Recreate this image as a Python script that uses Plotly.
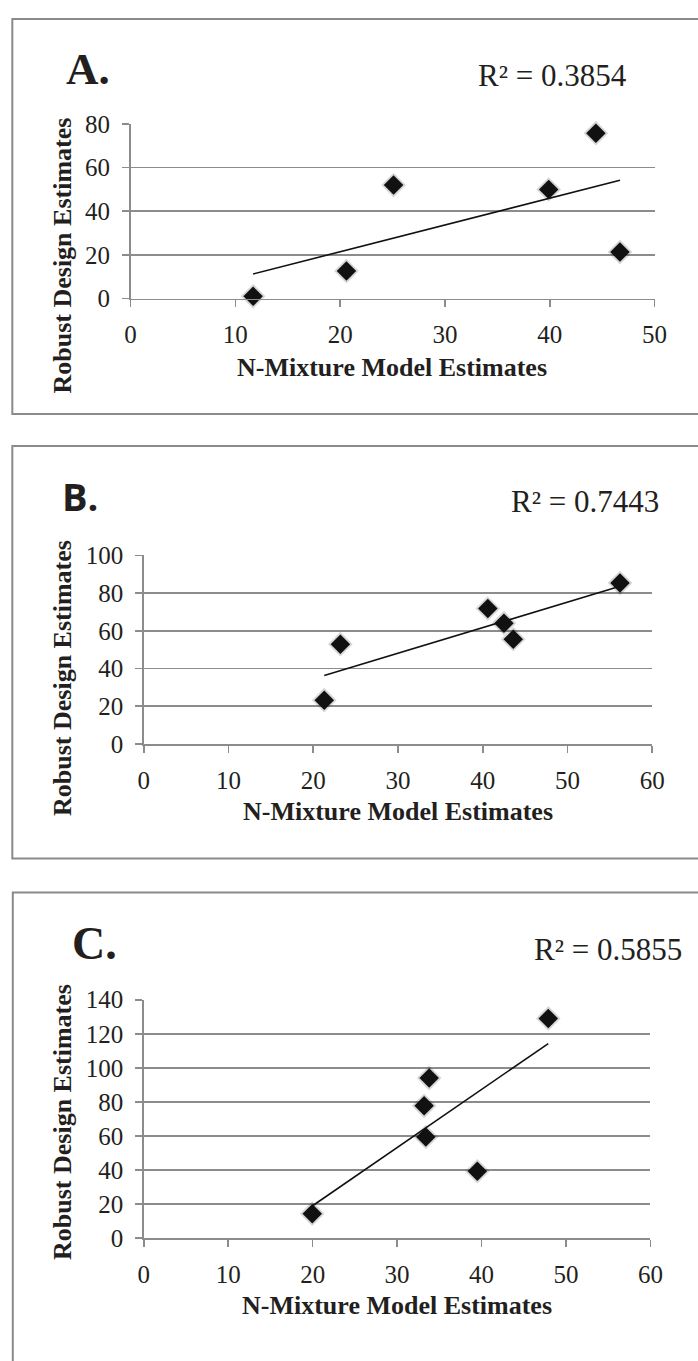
import numpy as np
import plotly.graph_objects as go

W, H = 698, 1361

# ---------------- data ----------------
a_x = [11.7, 20.6, 25.1, 39.9, 44.4, 46.7]
a_y = [1.0, 12.6, 52.0, 50.0, 75.8, 21.3]
b_x = [21.3, 23.2, 40.6, 42.5, 43.6, 56.2]
b_y = [23.2, 52.9, 71.8, 64.0, 55.5, 85.3]
c_x = [19.95, 33.2, 33.8, 33.4, 39.5, 47.9]
c_y = [14.4, 77.7, 94.0, 59.4, 39.3, 129.0]

panel_labels = ["A.", "B.", "C."]
r2_labels = ["R² = 0.3854", "R² = 0.7443", "R² = 0.5855"]
x_title = "N-Mixture Model Estimates"
y_title = "Robust Design Estimates"
x_ranges = [[0, 50], [0, 60], [0, 60]]
y_ranges = [[0, 80], [0, 100], [0, 140]]
x_dticks = [10, 10, 10]
y_dticks = [20, 20, 20]

# ---------------- layout geometry (pixels) ----------------
def px(x):
    return x / W

def py(y):
    return 1 - y / H

plot_boxes = [  # left, right, top, bottom in px
    (128.0, 666.7, 113.3, 291.3),
    (141.6, 664.3, 553.3, 745.7),
    (141.6, 662.5, 1006.7, 1250.0),
]
frames = [  # left, top, bottom
    (6.5, 6.0, 409.0),
    (6.5, 441.7, 862.7),
    (7.0, 897.3, 1400.0),
]

SERIF = "Liberation Serif, Times New Roman, serif"
TXT = "#231f20"
GRID = "#8c8c8c"

fig = go.Figure()
datasets = [(a_x, a_y), (b_x, b_y), (c_x, c_y)]

for i, (xs, ys) in enumerate(datasets):
    sfx = "" if i == 0 else str(i + 1)
    xa, ya = "x" + sfx, "y" + sfx
    # soft shadow under markers
    fig.add_trace(go.Scatter(x=xs, y=ys, mode="markers", xaxis=xa, yaxis=ya,
                             marker=dict(symbol="diamond", size=19, color="rgba(0,0,0,0.16)",
                                         line=dict(width=0)),
                             cliponaxis=False, hoverinfo="skip", showlegend=False))
    fig.add_trace(go.Scatter(x=xs, y=ys, mode="markers", xaxis=xa, yaxis=ya,
                             marker=dict(symbol="diamond", size=15, color="#111111",
                                         line=dict(width=0)),
                             cliponaxis=False, showlegend=False))
    # linear trendline (least squares) from min x to max x
    k, b = np.polyfit(xs, ys, 1)
    xl = [min(xs), max(xs)]
    yl = [k * v + b for v in xl]
    fig.add_trace(go.Scatter(x=xl, y=yl, mode="lines", xaxis=xa, yaxis=ya,
                             line=dict(color="#111111", width=1.6),
                             cliponaxis=False, showlegend=False, hoverinfo="skip"))

    l, r, t, bt = plot_boxes[i]
    axis_common = dict(showgrid=True, gridcolor=GRID, gridwidth=1.6,
                       showline=True, linecolor=GRID, linewidth=1.6,
                       ticks="outside", tickcolor=GRID, tickwidth=1.6, ticklen=7,
                       zeroline=False,
                       tickfont=dict(family=SERIF, size=25, color=TXT))
    fig.layout["xaxis" + sfx] = dict(axis_common, domain=[px(l), px(r)], anchor=ya,
                                     range=x_ranges[i], dtick=x_dticks[i], tick0=0,
                                     showgrid=False, ticklabelstandoff=6)
    fig.layout["yaxis" + sfx] = dict(axis_common, domain=[py(bt), py(t)], anchor=xa,
                                     range=y_ranges[i], dtick=y_dticks[i], tick0=0,
                                     ticklabelstandoff=7)

    fl, ft, fb = frames[i]
    fig.add_shape(type="rect", xref="paper", yref="paper",
                  x0=px(fl), x1=px(720), y0=py(fb), y1=py(ft),
                  line=dict(color="#8a8a8a", width=2), fillcolor="rgba(0,0,0,0)",
                  layer="below")

# panel letters
letter_specs = [
    (60, 57, SERIF, 45),
    (56, 493, "Open Sans, Lato, sans-serif", 38),
    (66, 949, SERIF, 46),
]
for (x0, yc, fam, sz), lab in zip(letter_specs, panel_labels):
    fig.add_annotation(x=px(x0), y=py(yc), xref="paper", yref="paper",
                       xanchor="left", yanchor="middle", showarrow=False,
                       text="<b>" + lab + "</b>",
                       font=dict(family=fam, size=sz, color=TXT))

# R² labels
r2_specs = [(561.5, 64), (595.5, 498), (619, 955)]
for (xc, yc), lab in zip(r2_specs, r2_labels):
    fig.add_annotation(x=px(xc), y=py(yc), xref="paper", yref="paper",
                       xanchor="center", yanchor="middle", showarrow=False,
                       text=lab, font=dict(family=SERIF, size=31, color=TXT))

# axis titles
xt_specs = [(397, 362), (402.5, 815), (402, 1319)]
for xc, yc in xt_specs:
    fig.add_annotation(x=px(xc), y=py(yc), xref="paper", yref="paper",
                       xanchor="center", yanchor="middle", showarrow=False,
                       text="<b>" + x_title + "</b>",
                       font=dict(family=SERIF, size=26, color=TXT))
yt_specs = [(58, 247), (58, 678), (58, 1131)]
for xc, yc in yt_specs:
    fig.add_annotation(x=px(xc), y=py(yc), xref="paper", yref="paper",
                       xanchor="center", yanchor="middle", showarrow=False,
                       textangle=-90,
                       text="<b>" + y_title + "</b>",
                       font=dict(family=SERIF, size=26, color=TXT))

fig.update_layout(width=W, height=H, margin=dict(l=0, r=0, t=0, b=0),
                  paper_bgcolor="white", plot_bgcolor="white", showlegend=False)

fig.write_html(
    "out.html",
    config={"displayModeBar": False, "staticPlot": True},
    post_script=("document.documentElement.style.margin='0';"
                 "document.body.style.margin='0';"
                 "document.body.style.padding='0';"
                 "document.documentElement.style.overflow='hidden';"
                 "document.body.style.overflow='hidden';"),
)
